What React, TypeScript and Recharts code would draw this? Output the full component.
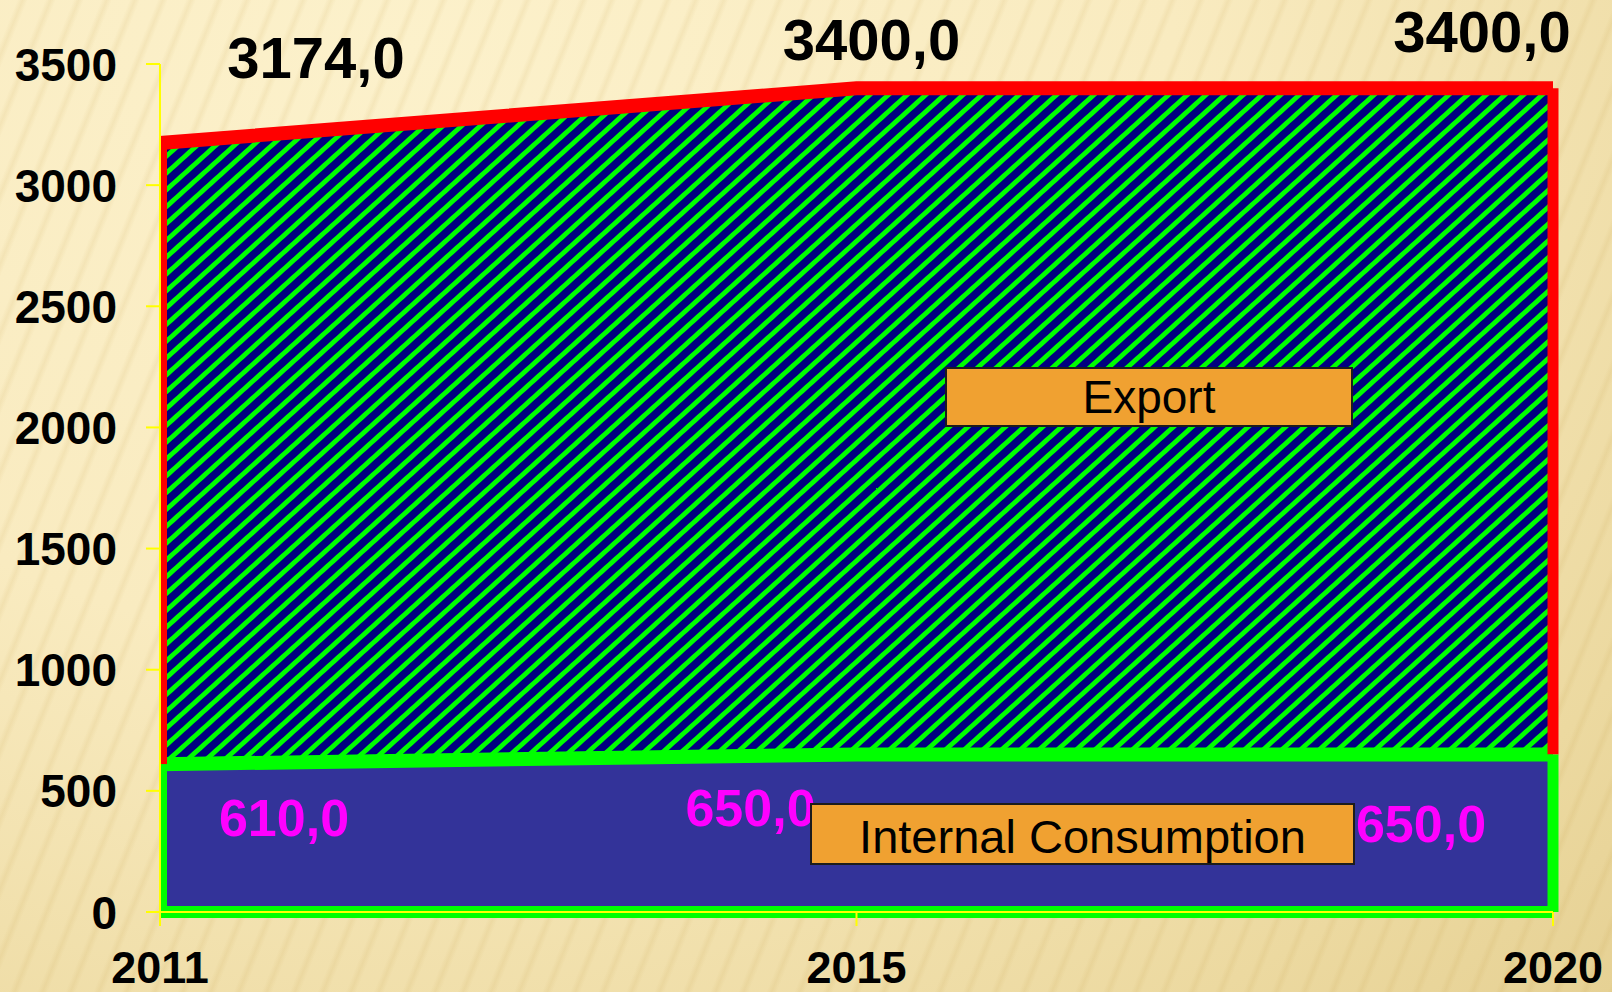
import { AreaChart, Area, XAxis, YAxis, ReferenceLine } from "recharts";

const years = ["2011", "2015", "2020"];
const internalConsumption = [610, 650, 650];
const exportVolume = [2564, 2750, 2750];
const yTicks = [0, 500, 1000, 1500, 2000, 2500, 3000, 3500];

const data = years.map((year, i) => ({
  year,
  internal: internalConsumption[i],
  total: internalConsumption[i] + exportVolume[i],
}));

// label nudges (px) as placed in the original slide
const totalShift = [[156, -65], [15, -28], [-71, -36]];
const internalShift = [[124, 72], [-106, 71], [-132, 87]];

const FONT = "'Liberation Sans', Arial, sans-serif";
const fmt = (v: number) => v.toFixed(1).replace(".", ",");

const px = (p: any) => (p.x ?? p.viewBox?.x ?? 0) as number;
const py = (p: any) => (p.y ?? p.viewBox?.y ?? 0) as number;

const TotalLabel = (p: any) => {
  const [dx, dy] = totalShift[p.index] ?? [0, 0];
  return (
    <text x={px(p) + dx} y={py(p) + dy} textAnchor="middle" fontFamily={FONT} fontWeight="bold" fontSize={58} fill="#000">
      {fmt(Number(p.value))}
    </text>
  );
};

const InternalLabel = (p: any) => {
  const [dx, dy] = internalShift[p.index] ?? [0, 0];
  return (
    <text x={px(p) + dx} y={py(p) + dy} textAnchor="middle" fontFamily={FONT} fontWeight="bold" fontSize={52} fill="#ff00ff">
      {fmt(Number(p.value))}
    </text>
  );
};

const XTick = (p: any) => (
  <text x={p.x} y={p.y} dy={55} textAnchor="middle" fontFamily={FONT} fontWeight="bold" fontSize={45} fill="#000">
    {p.payload.value}
  </text>
);

const YTick = (p: any) => (
  <text x={p.x} y={p.y} dx={-27} dy={16.5} textAnchor="end" fontFamily={FONT} fontWeight="bold" fontSize={46} fill="#000">
    {p.payload.value}
  </text>
);

const boxStyle: React.CSSProperties = {
  position: "absolute",
  boxSizing: "border-box",
  background: "#f0a131",
  border: "2px solid #1c1c1c",
  fontFamily: FONT,
  color: "#000",
  display: "flex",
  alignItems: "center",
  justifyContent: "center",
};

export default function App() {
  const first = years[0];
  const last = years[years.length - 1];
  return (
    <div
      style={{
        position: "absolute",
        left: 0,
        top: 0,
        width: 1612,
        height: 992,
        overflow: "hidden",
        background:
          "repeating-linear-gradient(112deg, rgba(190,150,60,0) 0px, rgba(190,150,60,0) 16px, rgba(190,150,60,0.11) 21px, rgba(190,150,60,0) 26px), radial-gradient(ellipse at 25% 5%, #fcf1cb 0%, #f9ebc0 45%, #ecd9a0 85%, #e6d194 100%)",
      }}
    >
      <AreaChart width={1612} height={992} data={data} margin={{ top: 64, right: 59, bottom: 0, left: 0 }}>
        <defs>
          <pattern id="hatch" patternUnits="userSpaceOnUse" width={12.5} height={12.5} patternTransform="rotate(48)">
            <rect width={12.5} height={12.5} fill="#000080" />
            <rect width={4.8} height={12.5} fill="#00ff00" />
          </pattern>
        </defs>
        <Area
          dataKey="total"
          type="linear"
          stroke="#ff0000"
          strokeWidth={14}
          fill="url(#hatch)"
          fillOpacity={1}
          baseValue={0}
          dot={false}
          activeDot={false}
          isAnimationActive={false}
          label={TotalLabel}
        />
        <ReferenceLine
          segment={[{ x: first, y: internalConsumption[0] }, { x: first, y: data[0].total }]}
          stroke="#ff0000"
          strokeWidth={14}
          ifOverflow="hidden"
        />
        <ReferenceLine
          segment={[{ x: last, y: internalConsumption[2] }, { x: last, y: data[2].total }]}
          stroke="#ff0000"
          strokeWidth={11}
        />
        <Area
          dataKey="internal"
          type="linear"
          stroke="#00ff00"
          strokeWidth={14}
          fill="#333399"
          fillOpacity={1}
          baseValue={0}
          dot={false}
          activeDot={false}
          isAnimationActive={false}
          label={InternalLabel}
        />
        <ReferenceLine
          segment={[{ x: first, y: 0 }, { x: first, y: internalConsumption[0] }]}
          stroke="#00ff00"
          strokeWidth={14}
          ifOverflow="hidden"
        />
        <ReferenceLine
          segment={[{ x: last, y: 0 }, { x: last, y: internalConsumption[2] }]}
          stroke="#00ff00"
          strokeWidth={11}
        />
        <ReferenceLine
          segment={[{ x: first, y: 0 }, { x: last, y: 0 }]}
          stroke="#00ff00"
          strokeWidth={12}
        />
        <XAxis
          dataKey="year"
          height={80}
          axisLine={{ stroke: "#ffff00", strokeWidth: 2 }}
          tickLine={{ stroke: "#ffff00", strokeWidth: 2 }}
          tickSize={14}
          tick={XTick}
          interval={0}
        />
        <YAxis
          width={160}
          domain={[0, 3500]}
          ticks={yTicks}
          axisLine={{ stroke: "#ffff00", strokeWidth: 2 }}
          tickLine={{ stroke: "#ffff00", strokeWidth: 2 }}
          tickSize={14}
          tick={YTick}
          interval={0}
        />
      </AreaChart>
      <div style={{ ...boxStyle, left: 945, top: 367, width: 408, height: 60, fontSize: 46 }}>Export</div>
      <div style={{ ...boxStyle, left: 810, top: 803, width: 545, height: 62, fontSize: 47, paddingTop: 4 }}>
        Internal Consumption
      </div>
    </div>
  );
}
